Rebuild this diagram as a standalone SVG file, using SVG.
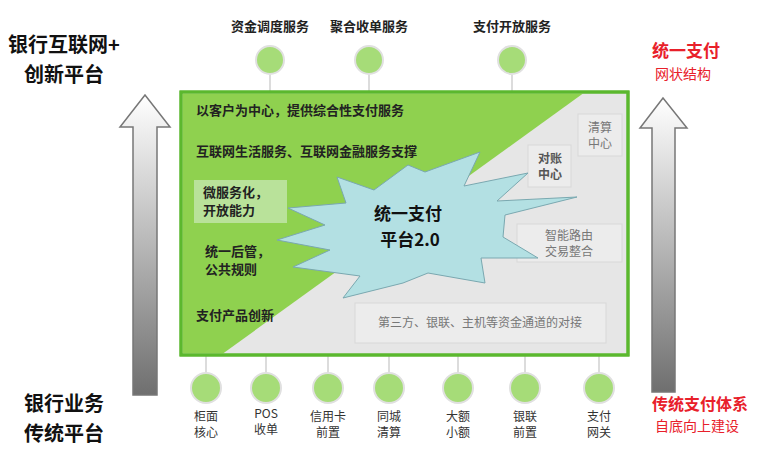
<svg xmlns="http://www.w3.org/2000/svg" width="769" height="461" viewBox="0 0 769 461">
<style>
text{font-family:"Noto Sans CJK SC","Liberation Sans",sans-serif;font-weight:bold}
.lbl{font-size:13px;fill:#222}
.big{font-size:20px;fill:#111}
.gray{font-size:12px;fill:#777;font-weight:normal}
.sm{font-size:12px;fill:#333;font-weight:normal}
.c{fill:#a6dc78;stroke:#e0e0e0;stroke-width:2}
.ln{stroke:#dcdcdc;stroke-width:2}
.gb{fill:#ececec;stroke:#d8d8d8;stroke-width:1}
</style>
<defs>
<linearGradient id="ag" x1="0" y1="0" x2="0" y2="1"><stop offset="0" stop-color="#ffffff"/><stop offset="1" stop-color="#6f6f6f"/></linearGradient>
</defs>
<rect width="769" height="461" fill="#fff"/>
<g id="connectors">
<line class="ln" x1="270" y1="75" x2="270" y2="92"/><line class="ln" x1="369" y1="75" x2="369" y2="92"/><line class="ln" x1="512" y1="75" x2="512" y2="92"/>
<line class="ln" x1="206" y1="355" x2="206" y2="373"/><line class="ln" x1="266" y1="355" x2="266" y2="373"/><line class="ln" x1="328" y1="355" x2="328" y2="373"/><line class="ln" x1="389" y1="355" x2="389" y2="373"/><line class="ln" x1="458" y1="355" x2="458" y2="373"/><line class="ln" x1="525" y1="355" x2="525" y2="373"/><line class="ln" x1="599" y1="355" x2="599" y2="373"/>
</g>
<g id="arrow-left"><polygon points="145,95 120,127 133,127 133,395 157,395 157,127 170,127" fill="url(#ag)" stroke="#777" stroke-width="1.5"/></g>
<g id="arrow-right"><polygon points="663,98 640,128 652,128 652,392 675,392 675,128 687,128" fill="url(#ag)" stroke="#777" stroke-width="1.5"/></g>
<g id="top-left"><text class="big" x="8" y="52">银行互联网+</text><text class="big" x="24" y="82">创新平台</text></g>
<g id="bottom-left"><text class="big" x="24" y="411">银行业务</text><text class="big" x="24" y="441">传统平台</text></g>
<g id="top-right"><text x="652" y="57" style="font-size:17px;fill:#e8202a">统一支付</text><text x="655" y="79" style="font-size:14px;fill:#e8202a;font-weight:normal">网状结构</text></g>
<g id="bottom-right"><text x="652" y="410" style="font-size:16px;fill:#e8202a">传统支付体系</text><text x="655" y="431" style="font-size:14px;fill:#e8202a;font-weight:normal">自底向上建设</text></g>
<g id="top-nodes">
<circle class="c" cx="270" cy="60" r="14"/><text class="lbl" x="270" y="31" text-anchor="middle">资金调度服务</text>
<circle class="c" cx="369" cy="60" r="14"/><text class="lbl" x="369" y="31" text-anchor="middle">聚合收单服务</text>
<circle class="c" cx="512" cy="60" r="14"/><text class="lbl" x="512" y="31" text-anchor="middle">支付开放服务</text>
</g>
<g id="platform">
<rect x="181" y="92" width="447" height="263" fill="#e6e6e6" stroke="#5bb82e" stroke-width="3"/>
<polygon points="182.5,93.5 583,93.5 223,353.5 182.5,353.5" fill="#8fd14f"/>
<rect x="181" y="92" width="447" height="263" fill="none" stroke="#5bb82e" stroke-width="3"/>
<text class="lbl" x="196" y="115">以客户为中心，提供综合性支付服务</text>
<text class="lbl" x="196" y="156">互联网生活服务、互联网金融服务支撑</text>
<rect x="194" y="180" width="93" height="43" fill="#b9e29a"/>
<text class="lbl" x="203" y="197">微服务化，</text><text class="lbl" x="203" y="215">开放能力</text>
<text class="lbl" x="205" y="256">统一后管，</text><text class="lbl" x="205" y="274">公共规则</text>
<text class="lbl" x="196" y="320">支付产品创新</text>
<rect class="gb" x="578" y="114" width="44" height="42"/><text class="gray" x="600" y="132" text-anchor="middle">清算</text><text class="gray" x="600" y="148" text-anchor="middle">中心</text>
<rect class="gb" x="528" y="145" width="43" height="42"/><text class="sm" x="550" y="163" text-anchor="middle" style="font-weight:bold;fill:#555">对账</text><text class="sm" x="550" y="179" text-anchor="middle" style="font-weight:bold;fill:#555">中心</text>
<rect class="gb" x="517" y="224" width="105" height="38"/><text class="gray" x="569" y="240" text-anchor="middle">智能路由</text><text class="gray" x="569" y="256" text-anchor="middle">交易整合</text>
<rect class="gb" x="355" y="303" width="251" height="40"/><text class="gray" x="480" y="327" text-anchor="middle">第三方、银联、主机等资金通道的对接</text>
<polygon points="337,177 374,190 408,165 425,172 480,152 464,186 528,173 497,201 577,197 505,215 503,237 538,258 481,258 485,283 428,273 403,283 343,298 360,276 293,267 330,250 277,240 325,225 288,208 346,203" fill="#b3e0e3" stroke="#7aa8b0" stroke-width="1"/>
<text x="408" y="220" text-anchor="middle" style="font-size:17px;fill:#111">统一支付</text>
<text x="410" y="246" text-anchor="middle" style="font-size:17px;fill:#111">平台2.0</text>
</g>
<g id="bottom-nodes">
<circle class="c" cx="206" cy="388" r="15"/><text class="sm" x="206" y="421" text-anchor="middle">柜面</text><text class="sm" x="206" y="437" text-anchor="middle">核心</text>
<circle class="c" cx="266" cy="388" r="15"/><text class="sm" x="266" y="418" text-anchor="middle">POS</text><text class="sm" x="266" y="434" text-anchor="middle">收单</text>
<circle class="c" cx="328" cy="388" r="15"/><text class="sm" x="328" y="421" text-anchor="middle">信用卡</text><text class="sm" x="328" y="437" text-anchor="middle">前置</text>
<circle class="c" cx="389" cy="388" r="15"/><text class="sm" x="389" y="421" text-anchor="middle">同城</text><text class="sm" x="389" y="437" text-anchor="middle">清算</text>
<circle class="c" cx="458" cy="388" r="15"/><text class="sm" x="458" y="421" text-anchor="middle">大额</text><text class="sm" x="458" y="437" text-anchor="middle">小额</text>
<circle class="c" cx="525" cy="388" r="15"/><text class="sm" x="525" y="421" text-anchor="middle">银联</text><text class="sm" x="525" y="437" text-anchor="middle">前置</text>
<circle class="c" cx="599" cy="388" r="15"/><text class="sm" x="599" y="421" text-anchor="middle">支付</text><text class="sm" x="599" y="437" text-anchor="middle">网关</text>
</g>
</svg>
